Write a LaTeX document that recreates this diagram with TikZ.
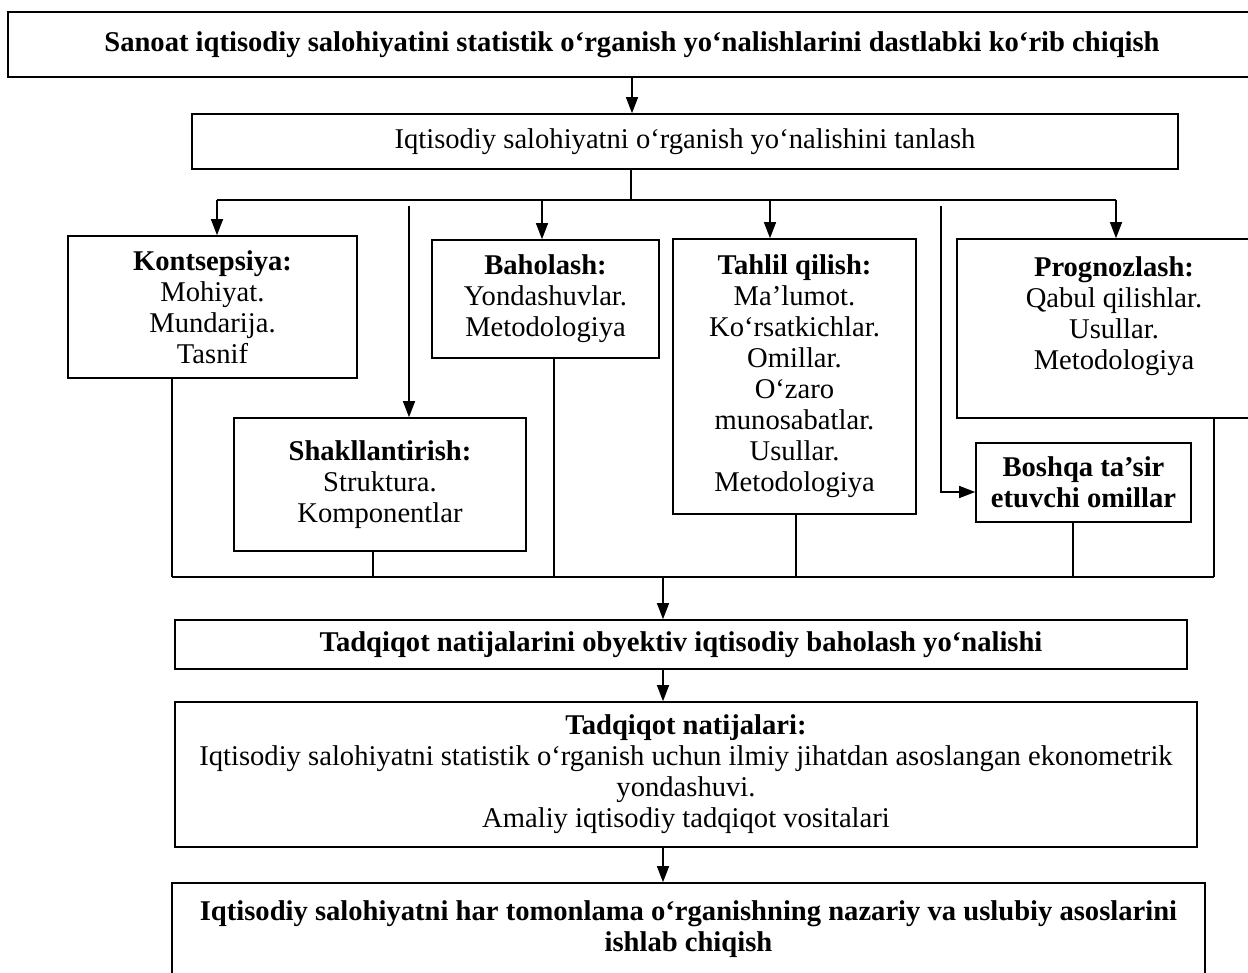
\documentclass[tikz,border=0pt]{standalone}
\usepackage{fontspec}
\setmainfont{Liberation Serif}
\usetikzlibrary{arrows.meta}

\tikzset{
	blok/.style={draw, line width=0.8pt, inner sep=0pt, align=center,
		font=\fontsize{14.3pt}{15.5pt}\selectfont},
	strelka/.style={line width=0.6pt, -{Triangle[length=8pt,width=6pt]}},
	chiziq/.style={line width=0.6pt},
}

\begin{document}
\begin{tikzpicture}[x=0.5pt,y=-0.5pt]
		%%%%% START %%%%%
		\useasboundingbox (0,0) rectangle (1248,973);
		
		\node[blok, minimum width=624pt, minimum height=32.5pt] (bosh) at (632,44.5)
			{\textbf{Sanoat iqtisodiy salohiyatini statistik o‘rganish yo‘nalishlarini dastlabki ko‘rib chiqish}};
		\node[blok, minimum width=493pt, minimum height=27.5pt] (tanlov) at (685,141.5)
			{Iqtisodiy salohiyatni o‘rganish yo‘nalishini tanlash};
		
		\node[blok, minimum width=144.5pt, minimum height=71pt] (konts) at (212.5,307)
			{\textbf{Kontsepsiya:}\\ Mohiyat.\\ Mundarija.\\ Tasnif};
		\node[blok, minimum width=146pt, minimum height=66.5pt] (shakl) at (380,484.5)
			{\textbf{Shakllantirish:}\\ Struktura.\\ Komponentlar};
		\node[blok, minimum width=113.5pt, minimum height=59pt] (baho) at (545.5,299)
			{\textbf{Baholash:}\\ Yondashuvlar.\\ Metodologiya};
		\node[blok, minimum width=121.5pt, minimum height=137.5pt] (tahlil) at (794.5,376.5)
			{\textbf{Tahlil qilish:}\\ Ma’lumot.\\ Ko‘rsatkichlar.\\ Omillar.\\ O‘zaro\\ munosabatlar.\\ Usullar.\\ Metodologiya};
		\node[blok, minimum width=157pt, minimum height=89.5pt] (prog) at (1114,328.5)
			{\textbf{Prognozlash:}\\ Qabul qilishlar.\\ Usullar.\\ Metodologiya\\ \mbox{}};
		\node[blok, minimum width=107.5pt, minimum height=39.5pt] (boshqa) at (1083.5,482.5)
			{\textbf{Boshqa ta’sir}\\ \textbf{etuvchi omillar}};
		
		\node[blok, minimum width=506pt, minimum height=24.5pt] (natija1) at (681,644.5)
			{\textbf{Tadqiqot natijalarini obyektiv iqtisodiy baholash yo‘nalishi}};
		\node[blok, minimum width=511pt, minimum height=72.5pt] (natija2) at (686,774.5)
			{\textbf{Tadqiqot natijalari:}\\ Iqtisodiy salohiyatni statistik o‘rganish uchun ilmiy jihatdan asoslangan ekonometrik\\ yondashuvi.\\ Amaliy iqtisodiy tadqiqot vositalari};
		\node[blok, minimum width=516.5pt, minimum height=46pt] (asos) at (688.5,929)
			{\textbf{Iqtisodiy salohiyatni har tomonlama o‘rganishning nazariy va uslubiy asoslarini}\\ \textbf{ishlab chiqish}};
		
		% tarqatish chizig'i
		\coordinate (tarq) at (631,200);
		\coordinate (t1) at (217,200);
		\coordinate (t2) at (542,200);
		\coordinate (t3) at (770,200);
		\coordinate (t4) at (1116,200);
		\coordinate (s1) at (409,206);
		\coordinate (s2) at (941,206);
		\coordinate (s2b) at (941,492);
		
		\draw[strelka] (bosh.south) -- (tanlov.north -| bosh.south);
		\draw[chiziq] (tanlov.south -| tarq) -- (tarq);
		\draw[chiziq] (t1) -- (t4);
		\draw[strelka] (t1) -- (t1 |- konts.north);
		\draw[strelka] (t2) -- (t2 |- baho.north);
		\draw[strelka] (t3) -- (t3 |- tahlil.north);
		\draw[strelka] (t4) -- (t4 |- prog.north);
		\draw[strelka] (s1) -- (s1 |- shakl.north);
		\draw[strelka] (s2) -- (s2b) -- (s2b -| boshqa.west);
		
		% yig'ish chizig'i
		\coordinate (y1) at (172,577);
		\coordinate (y2) at (373,577);
		\coordinate (y3) at (554,577);
		\coordinate (y4) at (796,577);
		\coordinate (y5) at (1073,577);
		\coordinate (y6) at (1214,577);
		\coordinate (yig) at (663,577);
		
		\draw[chiziq] (y1 |- konts.south) -- (y1);
		\draw[chiziq] (y2 |- shakl.south) -- (y2);
		\draw[chiziq] (y3 |- baho.south) -- (y3);
		\draw[chiziq] (y4 |- tahlil.south) -- (y4);
		\draw[chiziq] (y5 |- boshqa.south) -- (y5);
		\draw[chiziq] (y6 |- prog.south) -- (y6);
		\draw[chiziq] (y1) -- (y6);
		
		\draw[strelka] (yig) -- (yig |- natija1.north);
		\draw[strelka] (natija1.south -| yig) -- (natija2.north -| yig);
		\draw[strelka] (natija2.south -| yig) -- (asos.north -| yig);
		
		%%%%% END %%%%%
	\end{tikzpicture}
\end{document}
